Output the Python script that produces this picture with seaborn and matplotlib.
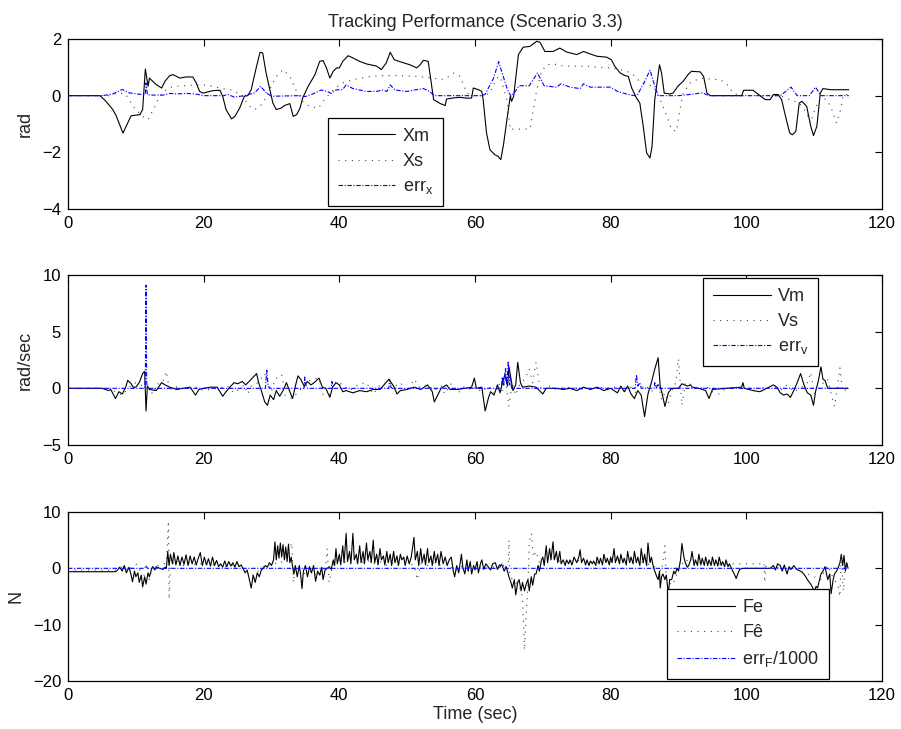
import matplotlib
matplotlib.use("Agg")
import matplotlib.pyplot as plt
import numpy as np
import pandas as pd
import seaborn as sns

# ---- top panel: position (rad) ----
xm_t = [0, 4.7, 5.6, 6.6, 7.1, 8.1, 8.8, 9.3, 10.6, 11.0, 11.4, 11.8, 12.0, 13.0, 13.8, 14.3, 15.0, 15.5,
        16.5, 17.4, 18.4, 18.9, 19.4, 19.9, 21.4, 22.4, 22.8, 23.3, 24.1, 24.6, 25.3, 26.0, 26.5, 27.0,
        27.8, 28.3, 28.7, 29.2, 29.7, 30.2, 30.7, 31.4, 31.9, 32.7, 33.2, 33.7, 34.2, 34.6, 35.4, 36.4,
        37.1, 37.6, 38.1, 38.6, 39.1, 39.6, 40.0, 40.5, 41.3, 42.0, 43.0, 44.0, 45.0, 45.5, 46.2, 46.9,
        47.5, 48.1, 48.8, 50.4, 51.4, 51.9, 52.4, 53.1, 53.9, 54.9, 55.6, 55.8, 56.8, 57.8, 58.8, 59.5,
        59.75, 60.5, 61.0, 61.2, 61.7, 62.2, 62.9, 63.4, 63.8, 64.2, 64.7, 65.2, 65.4, 65.7, 66.4, 67.1,
        68.1, 69.1, 69.6, 70.3, 71.5, 72.5, 73.5, 75.0, 76.0, 77.0, 78.0, 79.4, 80.1, 80.6, 81.4, 82.1,
        82.6, 83.1, 83.8, 84.3, 84.8, 85.3, 85.8, 86.1, 86.5, 86.9, 87.2, 87.5, 87.9, 88.7, 89.2, 89.9,
        90.7, 91.4, 91.9, 93.2, 93.7, 94.2, 94.7, 99.3, 99.6, 101.0, 101.8, 102.8, 103.5, 104.0, 104.7,
        105.2, 105.9, 106.4, 106.8, 107.3, 107.8, 108.2, 108.9, 109.5, 109.9, 110.4, 110.9, 111.3, 112.4,
        113.9, 115.1]
xm_v = [0, 0, -0.2, -0.49, -0.71, -1.32, -0.96, -0.71, -0.67, -0.49, 0.94, 0.33, 0.62, 0.39, 0.27, 0.51,
        0.71, 0.74, 0.62, 0.66, 0.66, 0.45, 0.15, 0.09, 0.18, 0.19, -0.02, -0.49, -0.82, -0.73, -0.44,
        -0.02, 0, 0.21, 1.04, 1.53, 1.51, 0.8, 0.27, -0.26, -0.49, -0.44, -0.35, -0.28, -0.73, -0.67,
        -0.44, -0.08, 0.33, 0.74, 1.21, 1.24, 0.98, 0.62, 0.86, 0.98, 0.98, 1.21, 1.41, 1.33, 1.21, 1.12,
        1.07, 1.04, 0.92, 1.15, 1.53, 1.27, 1.21, 1.09, 0.98, 1.09, 1.25, 1.21, -0.14, -0.28, -0.35,
        -0.12, -0.08, -0.06, -0.09, -0.08, 0.27, 0.21, 0.15, -0.14, -1.32, -1.91, -2.08, -2.14, -2.26,
        -1.73, -0.85, -0.02, -0.2, -0.02, 1.45, 1.71, 1.74, 1.92, 1.88, 1.56, 1.56, 1.68, 1.54, 1.45,
        1.56, 1.47, 1.39, 1.36, 1.27, 1.04, 0.8, 0.71, 0.68, 0.27, -0.08, -0.26, -1.08, -2.02, -2.2,
        -1.79, -0.14, 0.56, 1.09, 0.8, 0.09, 0.06, 0.09, 0.33, 0.51, 0.74, 0.86, 0.84, 0.68, 0.09, 0, 0,
        0.19, 0.19, 0.04, -0.14, -0.14, 0.04, 0.04, -0.14, -0.85, -1.32, -1.38, -1.26, -0.26, -0.2,
        -0.38, -1.08, -1.41, -1.08, 0.09, 0.25, 0.21, 0.21, 0.21]

xs_t = [0, 6.0, 7.5, 8.5, 9.6, 11.0, 11.8, 12.8, 13.5, 14.5, 15.5, 17.4, 19.4, 20.9, 22.4, 24.3, 25.8,
        26.5, 27.5, 28.3, 29.0, 29.7, 30.7, 31.7, 32.7, 33.7, 34.6, 35.6, 36.9, 37.8, 39.1, 40.5, 42.0,
        44.0, 46.4, 48.8, 51.4, 53.9, 54.8, 55.8, 56.8, 57.8, 58.8, 59.75, 61.2, 62.2, 63.2, 63.7, 64.7,
        65.2, 65.4, 68.1, 68.6, 69.1, 69.8, 70.6, 71.5, 72.5, 74.5, 76.5, 78.4, 79.9, 81.4, 82.4, 83.3,
        84.3, 85.3, 86.3, 87.3, 88.3, 89.0, 89.7, 90.2, 90.7, 91.7, 93.2, 94.7, 96.2, 97.2, 98.1, 99.1,
        105.0, 106.4, 107.8, 108.9, 109.4, 110.1, 110.9, 111.9, 112.6, 113.3, 113.9, 114.3, 115.1]
xs_v = [0, 0, 0.1, 0.05, -0.38, -0.73, -0.85, -0.38, -0.02, 0.21, 0.33, 0.35, 0.39, 0.35, 0.27, 0.19,
        -0.02, -0.32, -0.49, -0.38, -0.14, 0.21, 0.68, 0.92, 0.68, 0.15, -0.2, -0.38, -0.44, -0.14,
        0.21, 0.45, 0.56, 0.66, 0.71, 0.71, 0.68, 0.62, 0.56, 0.62, 0.8, 0.68, 0.09, 0, 0, 0.09, 0.62,
        0.68, -0.14, -1.2, -1.18, -1.18, -0.49, 0.21, 0.86, 1.09, 1.13, 1.06, 1.04, 1.04, 1.0, 0.98,
        0.92, 0.86, 0.74, 0.5, 0.39, 0.33, -0.14, -0.73, -1.2, -1.26, -0.49, 0.09, 0.45, 0.62, 0.59,
        0.56, 0.39, 0.09, 0, 0, -0.14, -0.26, -0.61, -0.97, -0.49, -0.08, -0.14, -0.49, -0.97, -0.49,
        0.04, 0.04]

ex_t = [0, 5.0, 6.5, 8.0, 9.0, 10.5, 11.4, 11.5, 11.7, 12.5, 14.0, 15.0, 16.0, 17.5, 19.0, 20.0, 23.0,
        23.5, 24.5, 26.0, 27.5, 28.4, 29.2, 30.0, 34.0, 35.0, 36.0, 37.3, 38.2, 38.8, 39.5, 40.5, 41.0,
        42.0, 43.0, 44.0, 45.5, 46.3, 47.0, 47.5, 48.2, 50.0, 51.0, 52.4, 53.3, 54.0, 61.0, 61.5, 62.7,
        63.5, 64.0, 64.8, 65.3, 65.8, 66.5, 68.0, 69.2, 70.2, 72.0, 72.7, 74.0, 75.5, 76.0, 77.0, 79.0,
        80.0, 81.0, 82.5, 83.5, 84.0, 85.0, 85.8, 86.3, 87.0, 90.0, 92.0, 93.5, 94.5, 105.0, 106.6,
        107.5, 109.3, 110.2, 111.0, 115.1]
ex_v = [0, 0, 0.05, 0.22, 0.1, 0.05, 0.05, 0.45, 0.03, 0.02, 0.02, 0.08, 0.06, 0.08, 0.05, 0, 0, 0.05,
        -0.05, 0, 0.1, 0.33, 0.1, -0.02, 0, -0.03, 0.05, 0.2, 0.15, 0.08, 0.2, 0.22, 0.38, 0.25, 0.2,
        0.15, 0.15, 0.2, 0.15, 0.38, 0.2, 0.15, 0.2, 0.25, 0.15, 0, 0, 0.05, 0.6, 1.2, 0.8, 0.2, -0.02,
        0.1, 0.35, 0.35, 0.8, 0.35, 0.3, 0.42, 0.3, 0.25, 0.42, 0.3, 0.3, 0.3, 0.15, 0.05, 0, 0.05,
        0.5, 0.9, 0.5, 0, 0, 0.05, 0.1, 0, 0, 0.3, 0, 0, 0.3, 0, 0]

# ---- middle panel: velocity (rad/sec) ----
vm = [(0, 0), (5, 0), (5.5, -0.1), (6, -0.2), (6.3, -0.1), (7, -0.9), (7.5, -0.3), (8, -0.5), (8.5, 0.1),
      (8.8, 0.7), (9.3, 0.4), (9.6, 0.1), (10, 0.1), (10.5, 0.5), (11, 1.3), (11.3, 1.5), (11.5, -2.0),
      (11.7, 0.2), (12, -0.1), (13, -0.2), (13.8, 0.5), (14.3, 0.3), (15, 0.1), (16, -0.1), (17, 0),
      (18, 0.1), (18.8, -0.6), (19.3, -0.1), (20, 0), (21, 0.1), (22, 0.1), (22.8, -0.7), (23.3, -0.3),
      (24, 0.2), (24.5, 0.5), (25, 0.4), (25.7, 0.6), (26.2, 0.3), (27, 0.8), (27.8, 1.3), (28.1, 0.5),
      (28.5, -0.2), (29, -1.2), (29.4, -1.5), (29.8, -0.6), (30.3, -1.0), (30.7, -0.2), (31.2, -0.7),
      (31.7, -0.2), (32.2, 0.5), (32.7, -0.3), (33.1, -0.9), (33.6, 0.4), (33.9, 1.1), (34.3, 0.8),
      (34.8, 0.2), (35.3, 0.6), (35.8, 0.3), (36.3, 0.5), (37, 0.9), (37.5, 0.1), (38, 0), (38.6, -0.8),
      (39, 0.1), (39.5, 0.5), (40, 0.3), (40.5, -0.3), (41, -0.2), (42, -0.4), (43, -0.2), (44, -0.3),
      (45, -0.1), (46, -0.1), (47.3, 0.8), (48, 0.2), (48.5, -0.5), (49, -0.2), (50, -0.1), (51, 0.1),
      (52, -0.1), (53, 0.3), (53.7, -0.3), (54, -1.2), (54.5, -0.6), (55, 0), (55.8, 0.3), (56.3, -0.1),
      (57.5, -0.1), (58.5, 0), (59.5, 0.1), (59.9, 0.9), (60.2, 0), (61, 0.1), (61.5, -2.0), (62, -0.8),
      (62.3, -0.3), (62.8, -0.6), (63.3, 0.3), (63.7, -0.4), (64, 0.4), (64.4, 1.2), (64.8, 0.2),
      (65, 1.9), (65.6, -0.2), (66, 0.3), (66.3, 2.3), (66.7, 0.5), (67, 0.1), (68, 0.2), (69, 0.1),
      (70, -0.5), (70.5, 0), (72, 0), (73, -0.1), (74, 0), (75, -0.2), (76, 0.1), (77, -0.1), (78, 0.1),
      (79, -0.2), (80, 0), (81, -0.4), (81.5, 0.2), (82, -0.3), (82.5, 0.2), (83, -0.5), (83.5, -0.9),
      (84, -0.2), (84.5, -0.6), (85, -2.5), (85.5, -0.5), (86, 0.5), (86.5, 1.7), (87, 2.7), (87.3, 0.2),
      (87.6, -0.5), (88, -1.6), (88.5, -0.4), (89, 0), (90, 0), (90.5, 0.4), (91.3, 0.2), (91.8, 0.3),
      (92, 0.1), (93, 0), (94, -0.2), (94.5, -0.9), (95, -0.1), (99.3, 0.1), (99.5, 0.5), (99.7, 0),
      (101, -0.2), (102, -0.3), (103, 0), (104, 0.3), (104.5, 0.1), (105, -0.4), (105.5, -0.6),
      (106, -0.5), (106.5, -0.8), (107, -0.2), (107.5, 0.5), (108, 1.3), (108.5, 0.3), (109, -0.4),
      (109.5, -0.6), (109.9, -1.5), (110.2, -0.3), (110.6, 0.6), (111, 1.9), (111.3, 0.8), (111.6, 0.7),
      (112, 0), (115, 0)]

vs = [(0, 0), (6, 0), (7, -0.3), (8, -0.6), (9, 0.1), (10, 0.5), (11, 0.2), (12, -0.1), (12.5, -0.5),
      (13, 0.3), (14, 0.6), (14.5, 1.5), (15, -0.3), (15.5, 0.2), (17, 0), (19, 0.1), (20, -0.2), (22, 0),
      (23.5, 0.2), (24.5, -0.4), (26, 0.3), (26.5, -0.5), (27, 0.2), (28, 0.5), (29, 1.3), (30, -0.3),
      (30.5, 0.8), (31.5, 1.2), (32, -0.6), (33, -0.9), (34, -0.3), (35, 0.5), (36, 0.8), (37, 0.9),
      (37.5, -0.5), (38.5, -0.6), (39.5, 0.6), (40.5, 0.3), (41.5, -0.2), (43, 0.4), (44, 0.5),
      (45, -0.5), (46, 0.3), (47, 0.5), (48, 0.1), (49, 0.5), (50, -0.3), (51, 0.8), (52, 0), (53, 0.3),
      (54, -0.2), (55, 0.2), (55.5, -0.5), (56.5, 0.4), (57.5, -0.4), (58.5, 0.2), (59.5, -0.2),
      (60, 0.1), (61, -0.3), (62, 0.2), (63, -0.5), (63.5, 0.4), (64, -0.2), (64.5, 0.8), (65, -1.6),
      (65.5, 0.5), (66, -0.6), (66.5, 0.2), (67.5, 1.0), (68, 1.7), (68.5, 0.5), (69, 2.3), (69.5, 0.3),
      (70, -0.3), (71, 0.2), (72, -0.1), (74, 0.1), (76, -0.1), (78, 0.1), (80, 0), (81, 0.2), (82, -0.3),
      (83, 0.1), (84, -0.6), (85, 0.3), (86, -0.3), (87, 0.5), (87.5, -1.0), (88, -0.4), (88.5, -1.3),
      (89, -0.2), (89.5, 0.2), (90, 2.6), (90.5, -1.5), (91, 0.5), (92, 0.3), (93, -0.1), (94, 0.2),
      (95, -0.3), (96, -0.5), (97, 0), (98, 0.1), (100, 0), (102, 0), (104, 0.2), (105, -0.2), (106, 0.3),
      (107, -0.3), (108, 0), (109, 0.5), (109.5, 1.4), (110, -0.5), (111, 0.3), (112, 0.8), (112.5, -0.5),
      (113, -1.6), (113.5, 0.5), (113.8, 1.8), (114.2, -0.3), (115, 0)]

ev = [(0, 0), (11.3, 0), (11.4, 1.0), (11.5, 9.1), (11.6, 0.5), (11.7, 0), (29.1, 0), (29.3, 1.6),
      (29.5, 0.2), (29.7, 0), (34.8, 0), (34.9, 1.0), (35.1, 0.2), (35.3, 0), (38.8, 0), (38.9, 0.6),
      (39.1, 0), (47.3, 0), (47.4, 0.8), (47.6, 0.1), (47.8, 0), (63.9, 0), (64.0, 1.0), (64.2, 0.2),
      (64.5, 1.8), (64.7, 0.3), (64.9, 2.4), (65.1, 0.3), (65.2, 1.0), (65.4, 0), (83.6, 0), (83.8, 1.2),
      (84.0, 0.2), (84.3, 0.5), (84.5, 0), (86.4, 0), (86.5, 0.5), (86.7, 0), (87, 0.4), (87.2, 0), (115, 0)]

# ---- bottom panel: force (N) ----
fe = [(0, -0.6), (7.0, -0.6), (7.3, -0.3), (7.6, 0.2), (8, -0.5), (8.3, 0.5), (8.6, -0.8), (9, 0.2),
      (9.3, -1.2), (9.5, -2.4), (9.8, -0.5), (10, -1.5), (10.3, -0.8), (10.5, -2.5), (10.8, -1.2),
      (11, -3.3), (11.3, -1.5), (11.5, -2.8), (11.8, -0.8), (12, -1.5), (12.3, -0.2), (12.5, 0.3),
      (12.8, -0.3), (13, 0.3), (13.5, 0), (14, -0.2), (14.3, 0.2), (14.5, 0), (14.7, 3.0), (14.9, 0.5),
      (15.1, 2.5), (15.4, 0.8), (15.6, 2.8), (15.9, 0.6), (16.2, 2.2), (16.5, 0.5), (16.8, 2.0),
      (17.1, 0.7), (17.4, 2.4), (17.7, 0.5), (18, 2.2), (18.3, 0.8), (18.6, 2.0), (18.9, 0.6),
      (19.2, 1.8), (19.5, 2.8), (19.8, 0.5), (20.1, 2.0), (20.4, 0.6), (20.7, 1.7), (21, 0.4), (21.3, 2.0),
      (21.6, 0.5), (21.9, 1.4), (22.2, 0.3), (22.5, 0.8), (22.8, 0.2), (23.1, 1.3), (23.4, 0.3),
      (23.7, 1.2), (24, 0.4), (24.3, 1.0), (24.6, 0.2), (24.9, 1.2), (25.2, 0.3), (25.5, 0.6), (25.8, 0),
      (26.1, -0.8), (26.4, -0.3), (26.7, -1.8), (27, -3.5), (27.3, -1.2), (27.6, -2.5), (27.9, -0.8),
      (28.2, -1.5), (28.5, -0.3), (28.8, 0), (29.1, 0.5), (29.4, 0.2), (29.7, 1.0), (30, 0.5), (30.3, 1.5),
      (30.5, 4.7), (30.7, 1.5), (30.9, 4.0), (31.1, 1.8), (31.3, 4.5), (31.5, 2.0), (31.7, 4.2),
      (31.9, 1.5), (32.1, 3.8), (32.3, 1.2), (32.5, 4.3), (32.7, 1.0), (32.9, 2.0), (33.1, 0.3),
      (33.3, -1.0), (33.5, 0.5), (33.8, -1.5), (34.1, 0.5), (34.3, -1.2), (34.5, -3.6), (34.7, -0.5),
      (35, 0.5), (35.3, -1.5), (35.6, 0.3), (35.9, -0.8), (36.2, 0.5), (36.5, -2.3), (36.8, -0.5),
      (37.1, -1.2), (37.4, 0.2), (37.6, -2.0), (37.9, -0.3), (38.2, 0), (38.5, 0.3), (38.8, -0.2),
      (39.1, 1.5), (39.3, 0.5), (39.5, 3.5), (39.7, 0.8), (40, 2.5), (40.2, 0.6), (40.5, 4.0), (40.7, 1.0),
      (41, 6.2), (41.2, 1.2), (41.5, 3.0), (41.7, 0.8), (42, 6.2), (42.2, 1.5), (42.5, 2.5), (42.7, 0.8),
      (43, 4.0), (43.2, 1.0), (43.5, 3.0), (43.7, 0.8), (44, 4.5), (44.2, 1.5), (44.5, 3.0), (44.7, 1.0),
      (45, 5.0), (45.2, 1.0), (45.5, 2.5), (45.7, 0.6), (46, 3.5), (46.2, 1.5), (46.5, 2.2), (46.7, 0.6),
      (47, 3.0), (47.2, 1.0), (47.5, 2.5), (47.7, 0.5), (48, 3.0), (48.2, 1.0), (48.5, 2.2), (48.7, 0.5),
      (49, 2.5), (49.2, 1.5), (49.5, 2.0), (49.7, 0.5), (50, 2.2), (50.3, 0.8), (50.6, 2.0), (51, 5.5),
      (51.2, 1.5), (51.5, 3.0), (51.7, 0.5), (52, 3.5), (52.2, 1.0), (52.5, 2.5), (52.7, 0.6), (53, 3.5),
      (53.2, 1.0), (53.5, 2.2), (53.7, 0.5), (54, 3.0), (54.2, 1.0), (54.5, 2.5), (54.7, 0.5), (55, 3.0),
      (55.3, 0.8), (55.6, 2.0), (55.9, 0.5), (56.2, 1.5), (56.5, 2.0), (56.8, -0.5), (57, -1.5),
      (57.3, 0.5), (57.6, -0.8), (58, 2.5), (58.2, 0.2), (58.5, -1.0), (58.8, 1.5), (59, -0.5),
      (59.3, 1.2), (59.5, -1.0), (59.8, 0.5), (60, -0.3), (60.3, 1.2), (60.5, -0.8), (60.8, 0.8),
      (61, 1.5), (61.3, -0.2), (61.6, 0.8), (62, 0.2), (62.3, -0.3), (62.6, 0.8), (63, 1.0), (63.3, -0.2),
      (63.6, 0.6), (64, 0.5), (64.3, -0.5), (64.6, 0.3), (65, -1.5), (65.3, -2.5), (65.5, -3.5),
      (65.8, -2.0), (66, -4.7), (66.3, -2.5), (66.5, -2.0), (66.8, -4.0), (67, -2.5), (67.3, -4.0),
      (67.5, -3.0), (67.8, -2.0), (68, -4.0), (68.3, -1.5), (68.5, -3.0), (68.8, -1.0), (69, -1.0),
      (69.3, 0.5), (69.5, -0.5), (69.8, 1.5), (70, 2.0), (70.2, 0.5), (70.5, 4.0), (70.7, 1.0), (71, 3.5),
      (71.2, 1.5), (71.5, 4.7), (71.7, 1.5), (72, 3.0), (72.2, 1.0), (72.5, 3.0), (72.7, 0.8), (73, 1.5),
      (73.3, 0.5), (73.5, 1.5), (73.8, 0.8), (74, 1.5), (74.3, 0.6), (74.6, 2.0), (75, 1.0), (75.3, 2.0),
      (75.5, 3.3), (75.7, 1.0), (76, 1.8), (76.3, 0.6), (76.5, 1.5), (76.8, 0.5), (77, 1.3), (77.3, 0.8),
      (77.5, 1.3), (77.8, 0.5), (78, 2.0), (78.3, 0.8), (78.5, 1.8), (78.8, 0.6), (79, 2.5), (79.3, 1.0),
      (79.5, 1.8), (79.8, 0.6), (80, 2.0), (80.2, 1.0), (80.5, 3.5), (80.7, 1.0), (81, 2.2), (81.3, 0.8),
      (81.5, 2.5), (81.8, 1.0), (82, 1.8), (82.3, 0.6), (82.5, 3.0), (82.8, 1.0), (83, 2.0), (83.3, 0.8),
      (83.5, 3.0), (83.8, 1.0), (84, 2.0), (84.3, 0.5), (84.5, 3.5), (84.8, 1.0), (85, 2.5), (85.3, 0.5),
      (85.5, 4.5), (85.8, 1.0), (86, 2.0), (86.3, 0.2), (86.5, -0.5), (86.8, -1.5), (87, -2.0),
      (87.2, -0.5), (87.3, -3.5), (87.5, -1.5), (87.7, -1.0), (88, -2.0), (88.2, -1.2), (88.5, -4.5),
      (88.7, -2.0), (89, -2.0), (89.3, -0.5), (89.5, -1.0), (89.8, 0), (90, -0.5), (90.3, 1.5),
      (90.5, 4.4), (90.8, 2.0), (91, 1.0), (91.3, 0.2), (91.5, 0.5), (91.8, 1.5), (92, 3.0), (92.3, 0.5),
      (92.5, 1.5), (92.8, 0.5), (93, 2.5), (93.3, 0.6), (93.5, 1.8), (93.8, 0.5), (94, 2.0), (94.3, 0.5),
      (94.5, 1.5), (94.8, 0.5), (95, 2.0), (95.3, 0.5), (95.5, 1.5), (95.8, 0.4), (96, 2.0), (96.3, 0.5),
      (96.5, 1.2), (96.8, 0.3), (97, 1.5), (97.3, 0.3), (97.5, 0.8), (97.8, 0), (98, -0.5), (98.3, -1.2),
      (98.5, -1.8), (98.8, -0.8), (99, -0.2), (99.5, 0), (103.5, 0), (104, 0.5), (104.3, -0.3),
      (104.6, 0.8), (105, 0.5), (105.3, -0.5), (105.6, 0.6), (106, -1.0), (106.3, 0.3), (106.6, -0.2),
      (107, 0.5), (107.3, 0), (107.6, -0.3), (108, -0.5), (108.3, -0.8), (108.6, -1.2), (109, -2.0),
      (109.3, -2.5), (109.6, -3.0), (110, -4.0), (110.3, -3.2), (110.5, -3.5), (110.8, -2.0), (111, -1.0),
      (111.3, -0.5), (111.6, 0.3), (112, -2.0), (112.3, -1.0), (112.5, -4.5), (112.8, -2.0), (113, -1.0),
      (113.3, -0.5), (113.5, 0), (113.8, 1.0), (114, 2.5), (114.2, 0.5), (114.4, 2.3), (114.6, -0.5),
      (114.8, 1.0), (115, 0)]

fh = [(0, -0.3), (7, -0.3), (8, 0.3), (9, -0.5), (10, 0.8), (11, -1.0), (12, -2.0), (12.5, 0.5),
      (13.5, 0.5), (14.5, 1.0), (14.8, 8.4), (14.9, -5.5), (15.1, 0.5), (16, 1.5), (17, 0.5), (18, 1.2),
      (19, 0.5), (20, 1.0), (21, 0.5), (22, 0.8), (23, 0.2), (24, 0.5), (25, 0.8), (26, -0.3), (27, -1.5),
      (28, -0.5), (29, 0.5), (30, 1.0), (31, 0.8), (32, 1.5), (33, 4.5), (33.2, -2.5), (33.5, 0),
      (34, -0.5), (35, -1.0), (36, -0.5), (37, -1.5), (38, 0.5), (38.2, 3.5), (38.5, -2.5), (39, 0.5),
      (40, 1.5), (41, 1.0), (42, 1.5), (43, 0.8), (44, 1.5), (45, 0.8), (46, 1.2), (47, 0.5), (48, 1.0),
      (49, 0.8), (50, 1.0), (51, 0.5), (51.5, -2.0), (52, 0.8), (53, 0.5), (54, 1.0), (55, 0.5),
      (56, 0.8), (57, -0.5), (58, 0.3), (59, -0.3), (60, 0.2), (61, 0.3), (62, 0), (63, 0.3), (64, 0),
      (64.9, 0.5), (65, 5.0), (65.1, -1.0), (65.5, -2.0), (66, -2.5), (66.5, -3.0), (67, -5.0),
      (67.3, -14.5), (67.5, -9.0), (67.8, -3.0), (68, 4.7), (68.3, 6.2), (68.6, 2.0), (69, 3.0),
      (69.5, 1.0), (70, 2.0), (71, 2.5), (72, 1.5), (73, 1.0), (74, 1.2), (75, 1.5), (76, 1.0), (77, 1.2),
      (78, 1.0), (79, 1.5), (80, 1.2), (81, 1.5), (82, 1.0), (83, 1.5), (84, 1.2), (85, 1.0), (86, 0.5),
      (87, 0), (87.5, -0.5), (88, 4.0), (88.2, -2.0), (89, -3.0), (89.5, -2.0), (90, 0), (91, 1.5),
      (92, 1.0), (93, 1.0), (94, 1.2), (95, 1.0), (96, 0.8), (97, 0.8), (98, 0.8), (99, 0.8), (100, 0.8),
      (102, 0.8), (102.6, 1.0), (102.7, -2.5), (102.9, 0.5), (103.5, 0.2), (104, 0), (105, 0.3),
      (106, -0.3), (107, 0), (108, -0.5), (109, -1.0), (110, -1.5), (111, -2.0), (111.5, -0.5), (112, 0.5),
      (112.5, -1.0), (113, -2.0), (113.5, -3.0), (113.8, -5.0), (114, 2.5), (114.3, -4.0), (114.6, 0.5),
      (115, 0)]

ef = [(0, 0), (11.3, 0), (11.5, 0.5), (11.7, 0), (63.5, 0), (64, 0.8), (64.5, 0), (115, 0)]

x_ticks = [0, 20, 40, 60, 80, 100, 120]

sns.set_style("white")
plt.rcParams['font.family'] = ['Liberation Sans', 'DejaVu Sans']
plt.rcParams['mathtext.fontset'] = 'custom'
plt.rcParams['mathtext.rm'] = 'Liberation Sans'
plt.rcParams['mathtext.it'] = 'Liberation Sans'

fig = plt.figure(figsize=(9.01, 7.29), dpi=100)
ax1 = fig.add_axes([0.0755, 0.7133, 0.9034, 0.2332])
ax2 = fig.add_axes([0.0755, 0.3896, 0.9034, 0.2332])
ax3 = fig.add_axes([0.0755, 0.0658, 0.9034, 0.2319])

solid = dict(color='black', linewidth=0.8)
dotted = dict(color='#444444', linewidth=0.8, linestyle=(0, (1, 5)))
dashdot = dict(color='blue', linewidth=0.8, linestyle=(0, (4, 1.5, 1, 1.5)))


def pairs(p):
    return pd.DataFrame(p, columns=['t', 'v'])


sns.lineplot(x=xm_t, y=xm_v, ax=ax1, label='Xm', sort=False, **solid)
sns.lineplot(x=xs_t, y=xs_v, ax=ax1, label='Xs', sort=False, **dotted)
sns.lineplot(x=ex_t, y=ex_v, ax=ax1, label=r'err$_\mathregular{x}$', sort=False, **dashdot)

for data, lab, sty in [(vm, 'Vm', solid), (vs, 'Vs', dotted), (ev, r'err$_\mathregular{v}$', dashdot)]:
    d = pairs(data)
    sns.lineplot(data=d, x='t', y='v', ax=ax2, label=lab, sort=False, **sty)

for data, lab, sty in [(fe, 'Fe', solid), (fh, 'Fê', dotted), (ef, r'err$_\mathregular{F}$/1000', dashdot)]:
    d = pairs(data)
    sns.lineplot(data=d, x='t', y='v', ax=ax3, label=lab, sort=False, **sty)

limits = [(-4, 2, [-4, -2, 0, 2], 'rad'),
          (-5, 10, [-5, 0, 5, 10], 'rad/sec'),
          (-20, 10, [-20, -10, 0, 10], 'N')]
for ax, (lo, hi, yt, yl) in zip([ax1, ax2, ax3], limits):
    ax.set_xlim(0, 120)
    ax.set_ylim(lo, hi)
    ax.set_xticks(x_ticks)
    ax.set_yticks(yt)
    ax.set_ylabel(yl, fontsize=13, labelpad=6)
    ax.set_xlabel('')
    ax.tick_params(direction='in', top=True, right=True, length=5, width=0.8,
                   labelsize=12, colors='black', pad=5)
    for s in ax.spines.values():
        s.set_color('black')
        s.set_linewidth(0.9)

ax1.set_title('Tracking Performance (Scenario 3.3)', fontsize=13, pad=9)
ax3.set_xlabel('Time (sec)', fontsize=13, labelpad=2)

leg_kw = dict(fontsize=13, frameon=True, fancybox=False, edgecolor='black', framealpha=1,
              handlelength=3.2, borderpad=0.55, labelspacing=0.45, handletextpad=0.4, borderaxespad=0)
l1 = ax1.legend(loc='lower left', bbox_to_anchor=(0.319, 0.018), **leg_kw)
l2 = ax2.legend(loc='upper left', bbox_to_anchor=(0.780, 0.982), **leg_kw)
l3 = ax3.legend(loc='lower left', bbox_to_anchor=(0.736, 0.012), **leg_kw)
for lg in (l1, l2, l3):
    lg.get_frame().set_linewidth(0.9)

fig.savefig('out.png', dpi=100)
